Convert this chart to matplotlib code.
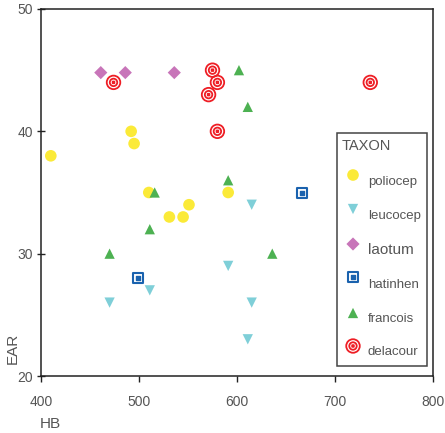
import matplotlib
matplotlib.use("Agg")
import matplotlib.pyplot as plt
from matplotlib.path import Path
from matplotlib.transforms import Affine2D

# HB (x) and EAR (y) measurements per taxon
poliocep_hb = [410, 492, 495, 510, 531, 545, 551, 591]
poliocep_ear = [38, 40, 39, 35, 33, 33, 34, 35]

leucocep_hb = [470, 511, 591, 615, 611, 615]
leucocep_ear = [26, 27, 29, 26, 23, 34]

laotum_hb = [461, 486, 536]
laotum_ear = [44.8, 44.8, 44.8]

hatinhen_hb = [499, 666]
hatinhen_ear = [28, 35]

francois_hb = [602, 611, 591, 516, 511, 470, 636]
francois_ear = [45, 42, 36, 35, 32, 30, 30]

delacour_hb = [474, 575, 580, 571, 580, 736]
delacour_ear = [44, 45, 44, 43, 40, 44]

x_ticks = [400, 500, 600, 700, 800]
y_ticks = [20, 30, 40, 50]
taxa = ["poliocep", "leucocep", "laotum", "hatinhen", "francois", "delacour"]

W, H = 445, 433
fig = plt.figure(figsize=(W / 100, H / 100), dpi=100)
plt.rcParams["font.family"] = ["Liberation Sans", "DejaVu Sans"]
grey = "#555555"

ax = fig.add_axes([41 / W, 1 - 376 / H, (433 - 41) / W, (376 - 9) / H])
ax.set_xlim(400, 800)
ax.set_ylim(20, 50)

# Marker shapes
ring = Path.make_compound_path(
    Path.circle((0, 0), 1.0),
    Path.circle((0, 0), 0.55),
    Path.unit_rectangle().transformed(Affine2D().translate(-0.5, -0.5).scale(0.25)),
)
box = Path.unit_rectangle().transformed(Affine2D().translate(-0.5, -0.5))

styles = {
    "poliocep": dict(marker="o", s=70, color="#FBEA38", edgecolors="none"),
    "leucocep": dict(marker="v", s=55, color="#7FCFD8", edgecolors="none"),
    "laotum": dict(marker="D", s=45, color="#C875B9", edgecolors="none"),
    "hatinhen": dict(marker=box, s=60, facecolors="white", edgecolors="#1A62AE", linewidths=1.5),
    "francois": dict(marker="^", s=55, color="#4DB152", edgecolors="none"),
    "delacour": dict(marker=ring, s=95, facecolors="none", edgecolors="#EE1E25", linewidths=1.3),
}
series = {
    "poliocep": (poliocep_hb, poliocep_ear),
    "leucocep": (leucocep_hb, leucocep_ear),
    "laotum": (laotum_hb, laotum_ear),
    "hatinhen": (hatinhen_hb, hatinhen_ear),
    "francois": (francois_hb, francois_ear),
    "delacour": (delacour_hb, delacour_ear),
}

for name in taxa:
    hb, ear = series[name]
    ax.scatter(hb, ear, zorder=3, **styles[name])
    if name == "hatinhen":
        ax.scatter(hb, ear, marker="s", s=5, color="#1A62AE", zorder=4)

ax.set_xticks(x_ticks)
ax.set_yticks(y_ticks)
for sp in ax.spines.values():
    sp.set_color("#222222")
    sp.set_linewidth(1.1)
ax.tick_params(axis="x", direction="out", length=4, width=1.0, colors="#222222",
               labelcolor=grey, labelsize=10, pad=10)
ax.tick_params(axis="y", direction="inout", length=6, width=1.0, colors="#222222",
               labelcolor=grey, labelsize=10, pad=3)

fig.text(40 / W, 1 - 424 / H, "HB", ha="left", va="center", fontsize=11, color=grey)
fig.text(13 / W, 1 - 348 / H, "EAR", ha="center", va="center", rotation=90, fontsize=11, color=grey)


# Legend panel, positioned in figure pixels
def fx(px):
    return px / W


def fy(py):
    return 1 - py / H


tf = fig.transFigure
panel = plt.Rectangle((fx(336.5), fy(365.5)), fx(426.5) - fx(336.5), fy(133) - fy(365.5),
                      transform=tf, facecolor="white", edgecolor="#444444",
                      linewidth=1.1, zorder=5, clip_on=False)
ax.add_patch(panel)
ax.text(fx(342), fy(146), "TAXON", transform=tf, ha="left", va="center",
        fontsize=10.5, color=grey, zorder=6)

marker_y = [175, 209, 244, 277, 313, 346]
label_y = [182, 216, 250, 285, 319, 352]
for name, my, ly in zip(taxa, marker_y, label_y):
    ax.scatter([fx(353)], [fy(my)], transform=tf, clip_on=False, zorder=7, **styles[name])
    if name == "hatinhen":
        ax.scatter([fx(353)], [fy(my)], marker="s", s=5, color="#1A62AE",
                   transform=tf, clip_on=False, zorder=8)
    fs = 11 if name == "laotum" else 9.5
    ax.text(fx(368), fy(ly), name, transform=tf, ha="left", va="center",
            fontsize=fs, color=grey, zorder=7)

fig.savefig("out.png", dpi=100)
